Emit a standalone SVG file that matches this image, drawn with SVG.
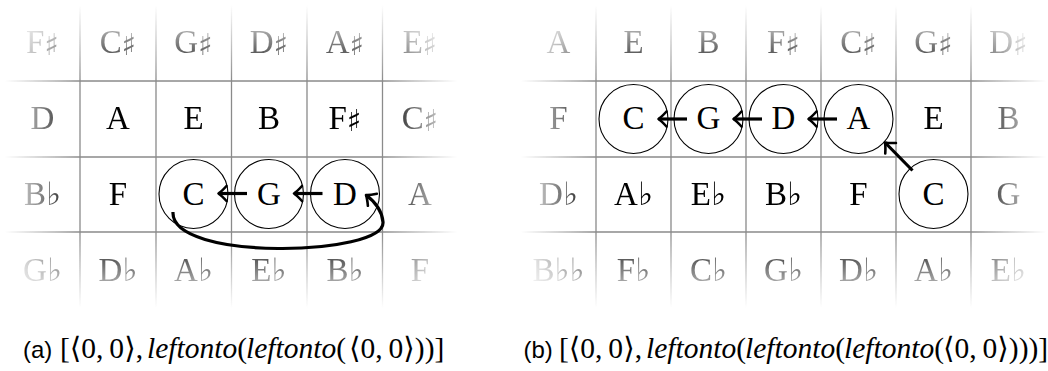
<svg xmlns="http://www.w3.org/2000/svg" width="1048" height="371" viewBox="0 0 1048 371">
<style>
.n{font-family:"Liberation Serif","DejaVu Serif",serif;font-size:33px;fill:#000;text-anchor:middle}
.sh{font-family:"DejaVu Serif",serif;font-size:30px}
.fl{font-family:"DejaVu Serif",serif;font-size:32px}
.g{stroke:#8a8a8a;stroke-width:1.3;fill:none}
.ring{fill:none;stroke:#000;stroke-width:1.1}
.ar{fill:none;stroke:#000;stroke-width:3.2;marker-end:url(#ah)}
.cs{font-family:"Liberation Sans",Arial,sans-serif;font-size:24px;fill:#000}
.cm{font-family:"Liberation Serif","Times New Roman",serif;font-size:29.5px;fill:#000}
.it{font-family:"Liberation Serif","Times New Roman",serif;font-style:italic}
.ang{font-family:"DejaVu Serif",serif}
</style>
<defs>
<linearGradient id="ghL" gradientUnits="userSpaceOnUse" x1="5" y1="0" x2="457" y2="0">
<stop offset="0" stop-color="#000"/><stop offset="0.166" stop-color="#fff"/><stop offset="0.834" stop-color="#fff"/><stop offset="1" stop-color="#000"/>
</linearGradient>
<linearGradient id="ghR" gradientUnits="userSpaceOnUse" x1="521" y1="0" x2="1046" y2="0">
<stop offset="0" stop-color="#000"/><stop offset="0.143" stop-color="#fff"/><stop offset="0.857" stop-color="#fff"/><stop offset="1" stop-color="#000"/>
</linearGradient>
<linearGradient id="gv" gradientUnits="userSpaceOnUse" x1="0" y1="5" x2="0" y2="308">
<stop offset="0" stop-color="#000"/><stop offset="0.251" stop-color="#fff"/><stop offset="0.749" stop-color="#fff"/><stop offset="1" stop-color="#000"/>
</linearGradient>
<mask id="mhL" maskUnits="userSpaceOnUse" x="0" y="0" width="1048" height="371"><rect x="0" y="0" width="1048" height="371" fill="url(#ghL)"/></mask>
<mask id="mhR" maskUnits="userSpaceOnUse" x="0" y="0" width="1048" height="371"><rect x="0" y="0" width="1048" height="371" fill="url(#ghR)"/></mask>
<mask id="mv" maskUnits="userSpaceOnUse" x="0" y="0" width="1048" height="371"><rect x="0" y="0" width="1048" height="371" fill="url(#gv)"/></mask>
<marker id="ah" markerUnits="userSpaceOnUse" markerWidth="20" markerHeight="20" viewBox="-10 -10 20 20" refX="0" refY="0" orient="auto" overflow="visible">
<path d="M-8,-7.5 Q-3,-2 0,0 Q-3,2 -8,7.5" fill="none" stroke="#000" stroke-width="2.6" stroke-linecap="round" stroke-linejoin="round"/>
</marker>
</defs>

<!-- Panel (a) -->
<g id="panel-a">
<g mask="url(#mhL)"><g mask="url(#mv)">
<g id="a-grid">
<path class="g" d="M5,81H457M5,157H457M5,232H457M80,5V308M156,5V308M231.5,5V308M307,5V308M382.5,5V308"/>
</g>
<g id="a-r0c0"><text class="n" x="42.5" y="53">F<tspan class="sh" dy="2">♯</tspan></text></g>
<g id="a-r0c1"><text class="n" x="118" y="53">C<tspan class="sh" dy="2">♯</tspan></text></g>
<g id="a-r0c2"><text class="n" x="193.5" y="53">G<tspan class="sh" dy="2">♯</tspan></text></g>
<g id="a-r0c3"><text class="n" x="269" y="53">D<tspan class="sh" dy="2">♯</tspan></text></g>
<g id="a-r0c4"><text class="n" x="345" y="53">A<tspan class="sh" dy="2">♯</tspan></text></g>
<g id="a-r0c5"><text class="n" x="420" y="53">E<tspan class="sh" dy="2">♯</tspan></text></g>
<g id="a-r1c0"><text class="n" x="42.5" y="129">D</text></g>
<g id="a-r1c1"><text class="n" x="118" y="129">A</text></g>
<g id="a-r1c2"><text class="n" x="193.5" y="129">E</text></g>
<g id="a-r1c3"><text class="n" x="269" y="129">B</text></g>
<g id="a-r1c4"><text class="n" x="345" y="129">F<tspan class="sh" dy="2">♯</tspan></text></g>
<g id="a-r1c5"><text class="n" x="420" y="129">C<tspan class="sh" dy="2">♯</tspan></text></g>
<g id="a-r2c0"><text class="n" x="42.5" y="205">B<tspan class="fl">♭</tspan></text></g>
<g id="a-r2c1"><text class="n" x="118" y="205">F</text></g>
<g id="a-r2c5"><text class="n" x="420" y="205">A</text></g>
<g id="a-r3c0"><text class="n" x="42.5" y="281">G<tspan class="fl">♭</tspan></text></g>
<g id="a-r3c1"><text class="n" x="118" y="281">D<tspan class="fl">♭</tspan></text></g>
<g id="a-r3c2"><text class="n" x="193.5" y="281">A<tspan class="fl">♭</tspan></text></g>
<g id="a-r3c3"><text class="n" x="269" y="281">E<tspan class="fl">♭</tspan></text></g>
<g id="a-r3c4"><text class="n" x="345" y="281">B<tspan class="fl">♭</tspan></text></g>
<g id="a-r3c5"><text class="n" x="420" y="281">F</text></g>
</g></g>
<g id="a-C"><circle class="ring" cx="193.5" cy="194" r="34.5"/><text class="n" x="193.5" y="205">C</text></g>
<g id="a-G"><circle class="ring" cx="269" cy="194" r="34.5"/><text class="n" x="269" y="205">G</text></g>
<g id="a-D"><circle class="ring" cx="345" cy="194" r="34.5"/><text class="n" x="345" y="205">D</text></g>
</g>

<!-- Panel (b) -->
<g id="panel-b">
<g mask="url(#mhR)"><g mask="url(#mv)">
<g id="b-grid">
<path class="g" d="M521,81H1046M521,157H1046M521,232H1046M596,5V308M671,5V308M746,5V308M821,5V308M896,5V308M971,5V308"/>
</g>
<g id="b-r0c0"><text class="n" x="558.5" y="53">A</text></g>
<g id="b-r0c1"><text class="n" x="633.5" y="53">E</text></g>
<g id="b-r0c2"><text class="n" x="708.5" y="53">B</text></g>
<g id="b-r0c3"><text class="n" x="783.5" y="53">F<tspan class="sh" dy="2">♯</tspan></text></g>
<g id="b-r0c4"><text class="n" x="858.5" y="53">C<tspan class="sh" dy="2">♯</tspan></text></g>
<g id="b-r0c5"><text class="n" x="933.5" y="53">G<tspan class="sh" dy="2">♯</tspan></text></g>
<g id="b-r0c6"><text class="n" x="1008.5" y="53">D<tspan class="sh" dy="2">♯</tspan></text></g>
<g id="b-r1c0"><text class="n" x="558.5" y="129">F</text></g>
<g id="b-r1c5"><text class="n" x="933.5" y="129">E</text></g>
<g id="b-r1c6"><text class="n" x="1008.5" y="129">B</text></g>
<g id="b-r2c0"><text class="n" x="558.5" y="205">D<tspan class="fl">♭</tspan></text></g>
<g id="b-r2c1"><text class="n" x="633.5" y="205">A<tspan class="fl">♭</tspan></text></g>
<g id="b-r2c2"><text class="n" x="708.5" y="205">E<tspan class="fl">♭</tspan></text></g>
<g id="b-r2c3"><text class="n" x="783.5" y="205">B<tspan class="fl">♭</tspan></text></g>
<g id="b-r2c4"><text class="n" x="858.5" y="205">F</text></g>
<g id="b-r2c6"><text class="n" x="1008.5" y="205">G</text></g>
<g id="b-r3c0"><text class="n" x="558.5" y="281">B<tspan class="fl">♭♭</tspan></text></g>
<g id="b-r3c1"><text class="n" x="633.5" y="281">F<tspan class="fl">♭</tspan></text></g>
<g id="b-r3c2"><text class="n" x="708.5" y="281">C<tspan class="fl">♭</tspan></text></g>
<g id="b-r3c3"><text class="n" x="783.5" y="281">G<tspan class="fl">♭</tspan></text></g>
<g id="b-r3c4"><text class="n" x="858.5" y="281">D<tspan class="fl">♭</tspan></text></g>
<g id="b-r3c5"><text class="n" x="933.5" y="281">A<tspan class="fl">♭</tspan></text></g>
<g id="b-r3c6"><text class="n" x="1008.5" y="281">E<tspan class="fl">♭</tspan></text></g>
</g></g>
<g id="b-C"><circle class="ring" cx="633.5" cy="119" r="34.5"/><text class="n" x="633.5" y="129">C</text></g>
<g id="b-G"><circle class="ring" cx="708.5" cy="119" r="34.5"/><text class="n" x="708.5" y="129">G</text></g>
<g id="b-D"><circle class="ring" cx="783.5" cy="119" r="34.5"/><text class="n" x="783.5" y="129">D</text></g>
<g id="b-A"><circle class="ring" cx="858.5" cy="119" r="34.5"/><text class="n" x="858.5" y="129">A</text></g>
<g id="b-C2"><circle class="ring" cx="933.5" cy="194" r="34.5"/><text class="n" x="933.5" y="205">C</text></g>
</g>

<!-- Connectors -->
<g id="connectors">
<path class="ar" d="M247,193.5H218.5"/>
<path class="ar" d="M322.5,193.5H294"/>
<path class="ar" d="M173,212 C170,262 386,256 383,222 C382,210 374,201 366,195"/>
<path class="ar" d="M687,119H658.5"/>
<path class="ar" d="M762,119H733.5"/>
<path class="ar" d="M837,119H808.5"/>
<path class="ar" d="M912.5,170.5L885,142.5"/>
</g>

<!-- Captions -->
<g id="caption-a">
<text class="cs" x="23" y="358">(a)</text>
<text class="cm" y="358"><tspan x="60">[</tspan><tspan class="ang">⟨</tspan>0,&#8201;0<tspan class="ang">⟩</tspan>,<tspan x="147" class="it">leftonto</tspan>(<tspan x="246" class="it">leftonto</tspan>(<tspan x="349" class="ang">⟨</tspan>0,&#8201;0<tspan class="ang">⟩</tspan>))]</text>
</g>
<g id="caption-b">
<text class="cs" x="523.5" y="358">(b)</text>
<text class="cm" y="358"><tspan x="559">[</tspan><tspan class="ang">⟨</tspan>0,&#8201;0<tspan class="ang">⟩</tspan>,<tspan x="646" class="it">leftonto</tspan>(<tspan x="745" class="it">leftonto</tspan>(<tspan x="844" class="it">leftonto</tspan>(<tspan x="943" class="ang">⟨</tspan>0,&#8201;0<tspan class="ang">⟩</tspan>)))]</text>
</g>
</svg>
